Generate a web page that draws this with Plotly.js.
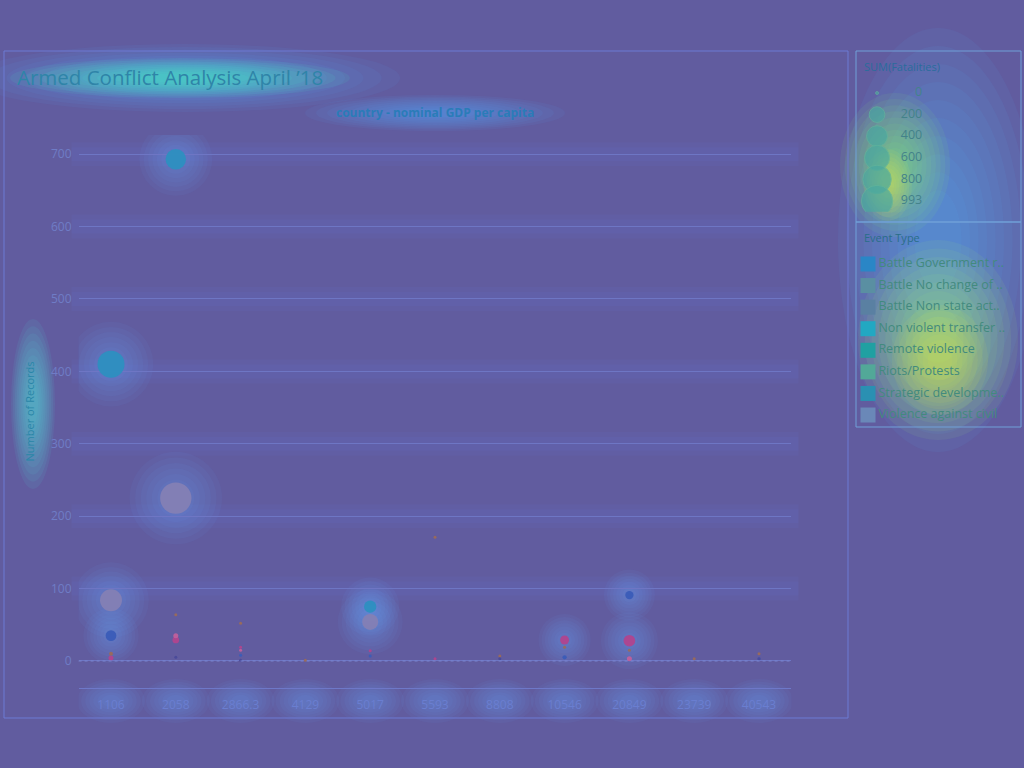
<!DOCTYPE html>
<html>
<head>
<meta charset="utf-8">
<script src="https://cdn.plot.ly/plotly-3.0.1.min.js"></script>
<style>html,body{margin:0;padding:0;background:#615c9f;}#chart{width:1024px;height:768px;}</style>
</head>
<body>
<div id="chart"></div>
<script>
// ---------- DATA ----------
const countries = ["1106","2058","2866.3","4129","5017","5593","8808","10546","20849","23739","40543"];

const eventNames = ["Battle-Government regains territory","Battle-No change of territory","Battle-Non-state actor overtakes territory","Non-violent transfer of territory","Remote violence","Riots/Protests","Strategic development","Violence against civilians"];
const eventLabels = ["Battle Government r..","Battle No change of ..","Battle Non state act..","Non violent transfer ..","Remote violence","Riots/Protests","Strategic developme..","Violence against civil"];

// Number of records per country (null = none)
const recBattleGov      = [35, null, 8, null, 7, null, null, 5, 91, null, 3];
const recBattleNoChange = [84, 225, null, null, 54, null, null, null, null, null, null];
const recBattleNonState = [4, 29, 19, null, 14, 3, null, 29, 28, null, null];
const recNonViolent     = [null, null, null, null, null, null, null, null, null, null, null];
const recRemote         = [null, 5, 1, null, null, null, 3, null, null, null, 3];
const recRiots          = [null, 35, 15, null, null, null, null, null, 3, null, null];
const recStrategic      = [10, 64, 52, 1, null, 171, 7, 19, 15, 3, 10];
const recViolence       = [410, 693, null, null, 75, null, null, null, null, null, null];

// SUM(Fatalities) per country
const fatBattleGov      = [73, null, 0, null, 0, null, null, 2, 35, null, 0];
const fatBattleNoChange = [446, 993, null, null, 209, null, null, null, null, null, null];
const fatBattleNonState = [5, 17, 0, null, 0, 0, null, 44, 93, null, null];
const fatNonViolent     = [null, null, null, null, null, null, null, null, null, null, null];
const fatRemote         = [null, 0, 0, null, null, null, 0, null, null, null, 0];
const fatRiots          = [null, 5, 0, null, null, null, null, null, 5, null, null];
const fatStrategic      = [1, 0, 0, 0, null, 0, 0, 0, 0, 0, 0];
const fatViolence       = [710, 378, null, null, 107, null, null, null, null, null, null];

const sizeLegendValues = [0, 200, 400, 600, 800, 993];

// ---------- STYLE ----------
const W = 1024, H = 768;
const dotColors    = ["#3a5cb8","#8480b4","#b0458e","#2aa0b8","#4a4a9a","#c0609c","#9a6a5a","#2d8fc0"];
const legendColors = ["#2a86c6","#5a8fa2","#5a80a2","#22a8c2","#20a0a2","#52a898","#2a90b2","#6a88b8"];
const textBlue = "#6f7cc6";
const fontFam = "'Open Sans', sans-serif";

function sz(f) { return 3 + 0.9 * Math.sqrt(f); }

const recs = [recBattleGov, recBattleNoChange, recBattleNonState, recNonViolent, recRemote, recRiots, recStrategic, recViolence];
const fats = [fatBattleGov, fatBattleNoChange, fatBattleNonState, fatNonViolent, fatRemote, fatRiots, fatStrategic, fatViolence];

const traces = [];
const order = [1, 7, 0, 2, 5, 6, 4, 3];
order.forEach(i => {
  traces.push({
    type: "scatter", mode: "markers", name: eventNames[i],
    x: countries, y: recs[i],
    marker: { color: dotColors[i], size: fats[i].map(f => f == null ? 0 : sz(f)), sizemode: "diameter", line: { width: 0 }, opacity: 0.95 },
    showlegend: false, hoverinfo: "x+y+name", cliponaxis: false
  });
});

// size legend
traces.push({
  type: "scatter", mode: "markers", xaxis: "x2", yaxis: "y2",
  x: sizeLegendValues.map(() => 0.123), y: sizeLegendValues.map(String),
  marker: { color: "#4aa8a0", size: sizeLegendValues.map(sz), line: { width: 1, color: "#60b49c" }, opacity: 0.7 },
  showlegend: false, hoverinfo: "skip"
});
traces.push({
  type: "scatter", mode: "text", xaxis: "x2", yaxis: "y2",
  x: sizeLegendValues.map(() => 0.40), y: sizeLegendValues.map(String),
  text: sizeLegendValues.map(v => String(v)), textposition: "middle left",
  textfont: { family: fontFam, size: 12.5, color: "#43828a" },
  showlegend: false, hoverinfo: "skip", cliponaxis: false
});
// colour legend
traces.push({
  type: "scatter", mode: "markers+text", xaxis: "x3", yaxis: "y3",
  x: eventLabels.map(() => 0.0675), y: eventLabels,
  marker: { color: legendColors, size: 15, symbol: "square", line: { width: 0 } },
  text: eventLabels, textposition: "middle right",
  textfont: { family: fontFam, size: 12.5, color: "#428a7e" },
  showlegend: false, hoverinfo: "skip", cliponaxis: false
});

// ---------- SHAPES ----------
const shapes = [];
const px = x => x / W, py = y => 1 - y / H;
function glow(cx, cy, rx, ry, color, n, op) {
  for (let i = 0; i < n; i++) {
    const s = 1 - (i / n) * 0.85;
    shapes.push({ type: "circle", xref: "paper", yref: "paper", layer: "below",
      x0: px(cx - rx * s), x1: px(cx + rx * s), y0: py(cy + ry * s), y1: py(cy - ry * s),
      fillcolor: color, opacity: op, line: { width: 0 } });
  }
}
// decorative glow (overlay look)
glow(185, 78, 215, 34, "#5ab0ff", 10, 0.07);
glow(180, 78, 170, 20, "#48f0c0", 10, 0.085);
glow(435, 113, 130, 18, "#5ab0ff", 10, 0.07);
glow(33, 404, 22, 85, "#50d8e0", 10, 0.085);
glow(938, 240, 100, 212, "#5ab8ff", 10, 0.07);
glow(895, 165, 55, 72, "#90f070", 10, 0.08);
glow(938, 340, 80, 100, "#a0f070", 10, 0.08);
glow(888, 185, 24, 36, "#f0f040", 8, 0.07);
glow(940, 360, 48, 55, "#f0f040", 8, 0.065);

// glows around tick labels and dots, anchored on axes
countries.forEach((c, i) => {
  for (let k = 0; k < 7; k++) {
    const s = 1 - k * 0.12;
    shapes.push({ type: "circle", xref: "x", yref: "paper", layer: "below",
      xsizemode: "pixel", xanchor: i, x0: -34 * s, x1: 34 * s,
      y0: py(701 + 22 * s), y1: py(701 - 22 * s),
      fillcolor: "#60a8ff", opacity: 0.06, line: { width: 0 } });
  }
});
recs.forEach((arr, t) => {
  arr.forEach((v, i) => {
    if (v == null) return;
    const d = sz(fats[t][i]);
    if (d < 8) return;
    const r = d * 0.9 + 18;
    for (let k = 0; k < 7; k++) {
      const s = 1 - k * 0.12;
      shapes.push({ type: "circle", xref: "x", yref: "y", layer: "below",
        xsizemode: "pixel", ysizemode: "pixel", xanchor: i, yanchor: v,
        x0: -r * s, x1: r * s, y0: -r * s, y1: r * s,
        fillcolor: "#62a4ff", opacity: 0.06, line: { width: 0 } });
    }
  });
});
// grid glow bands
[100, 200, 300, 400, 500, 600, 700].forEach(v => {
  [12, 7].forEach(h => {
    shapes.push({ type: "rect", xref: "x domain", yref: "y", layer: "below",
      x0: -0.01, x1: 1.01, ysizemode: "pixel", yanchor: v, y0: -h, y1: h,
      fillcolor: "#6a80e8", opacity: 0.08, line: { width: 0 } });
  });
});
// dotted zero line
shapes.push({ type: "line", xref: "x domain", yref: "y", x0: 0, x1: 1, y0: 0, y1: 0,
  line: { color: "#7a86d0", width: 1, dash: "dot" } });
// frames
shapes.push({ type: "rect", xref: "paper", yref: "paper", x0: px(4), x1: px(848), y0: py(718), y1: py(51),
  line: { color: "#6c7ad4", width: 1 }, layer: "below" });
shapes.push({ type: "rect", xref: "paper", yref: "paper", x0: px(856), x1: px(1021), y0: py(222), y1: py(51),
  line: { color: "#70a0d8", width: 1 }, layer: "below" });
shapes.push({ type: "rect", xref: "paper", yref: "paper", x0: px(856), x1: px(1021), y0: py(427), y1: py(222),
  line: { color: "#70a0d8", width: 1 }, layer: "below" });

// ---------- LAYOUT ----------
const layout = {
  width: W, height: H,
  paper_bgcolor: "#615c9f", plot_bgcolor: "rgba(0,0,0,0)",
  margin: { l: 0, r: 0, t: 0, b: 0 },
  font: { family: fontFam, color: textBlue, size: 12 },
  title: { text: "Armed Conflict Analysis April \u201918", x: px(17), xanchor: "left", xref: "paper",
    y: py(78), yanchor: "middle", yref: "paper", font: { family: fontFam, size: 20.5, color: "#2f84a8" } },
  showlegend: false,
  xaxis: {
    type: "category", categoryorder: "array", categoryarray: countries,
    domain: [px(78.6), px(791.4)], range: [-0.5, 10.5],
    showgrid: false, zeroline: false, showline: true, linecolor: "#6e78c8", linewidth: 1,
    ticks: "", ticklabelstandoff: 6, tickfont: { size: 12, color: "#6a7ed0" }, fixedrange: true
  },
  yaxis: {
    domain: [py(688), py(135)], range: [-37.3, 726.5],
    tickvals: [0, 100, 200, 300, 400, 500, 600, 700],
    showgrid: true, gridcolor: "#6e76c4", gridwidth: 1, zeroline: false, showline: false,
    ticks: "", ticklabelstandoff: 6, tickfont: { size: 12, color: textBlue },
    title: { text: "Number of Records", standoff: 14, font: { size: 11, color: "#2a86a8" } }, fixedrange: true
  },
  xaxis2: { domain: [px(857), px(1020)], range: [0, 1], visible: false, fixedrange: true },
  yaxis2: { domain: [py(211.8), py(82.2)], type: "category", categoryorder: "array",
    categoryarray: sizeLegendValues.map(String), range: [5.5, -0.5], visible: false, fixedrange: true },
  xaxis3: { domain: [px(857), px(1020)], range: [0, 1], visible: false, fixedrange: true },
  yaxis3: { domain: [py(425.8), py(253.2)], type: "category", categoryorder: "array",
    categoryarray: eventLabels, range: [7.5, -0.5], visible: false, fixedrange: true },
  annotations: [
    { text: "<b>country - nominal GDP per capita</b>", xref: "paper", yref: "paper", x: px(435), y: py(113),
      xanchor: "center", yanchor: "middle", showarrow: false, font: { size: 12, color: "#2a7cb8" } },
    { text: "SUM(Fatalities)", xref: "paper", yref: "paper", x: px(862), y: py(66),
      xanchor: "left", yanchor: "middle", showarrow: false, font: { size: 11, color: "#2a6c9c" } },
    { text: "Event Type", xref: "paper", yref: "paper", x: px(862), y: py(237),
      xanchor: "left", yanchor: "middle", showarrow: false, font: { size: 11, color: "#2a6e88" } }
  ],
  shapes: shapes
};

Plotly.newPlot("chart", traces, layout, { displayModeBar: false, staticPlot: true });
</script>
</body>
</html>
